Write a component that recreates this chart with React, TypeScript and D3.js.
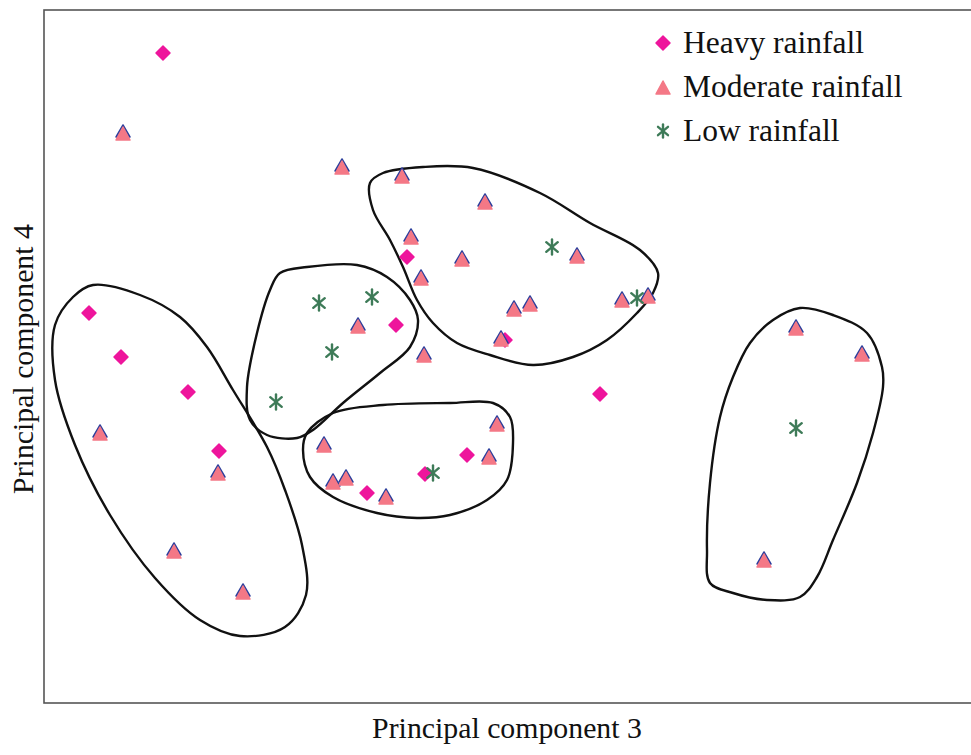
import React from "react";
import * as d3 from "d3";

// Principal component scores (PC3, PC4)
const heavy: [number, number][] = [
  [-3.37, 3.07], [-4.11, 0.47], [-3.79, 0.03], [-3.12, -0.32], [-2.81, -0.91],
  [-0.93, 1.03], [-1.04, 0.35], [1.0, -0.34], [-1.33, -1.33], [-0.33, -0.95],
  [-0.75, -1.14], [0.05, 0.2],
];
const moderate: [number, number][] = [
  [-3.77, 2.27], [-1.58, 1.93], [-0.98, 1.84], [-0.15, 1.58], [-0.89, 1.23],
  [-0.38, 1.01], [-0.79, 0.82], [0.77, 1.04], [0.14, 0.51], [0.3, 0.56],
  [0.01, 0.21], [1.22, 0.6], [1.48, 0.64], [-1.42, 0.34], [-0.76, 0.05],
  [-4.0, -0.73], [-2.82, -1.13], [-3.26, -1.91], [-2.57, -2.32], [-1.76, -0.85],
  [-1.67, -1.22], [-1.54, -1.18], [-1.14, -1.37], [-0.03, -0.64], [-0.11, -0.97],
  [2.96, 0.32], [3.62, 0.06], [2.64, -2.0],
];
const low: [number, number][] = [
  [0.52, 1.13], [1.37, 0.62], [-1.81, 0.57], [-1.28, 0.63], [-1.68, 0.08],
  [-2.24, -0.42], [-0.67, -1.13], [2.96, -0.68],
];

// Cluster outlines (closed curves) in the same units
const clusterA: [number, number][] = [
  [-4.27, 0.63], [-4.07, 0.75], [-3.6, 0.65], [-3.2, 0.43], [-2.93, 0.13], [-2.67, -0.3],
  [-2.33, -0.87], [-2.15, -1.3], [-1.98, -1.85], [-1.94, -2.35], [-2.15, -2.67], [-2.6, -2.76],
  [-3.0, -2.6], [-3.45, -2.18], [-3.9, -1.55], [-4.25, -0.85], [-4.45, -0.2], [-4.45, 0.35],
];
const clusterB: [number, number][] = [
  [-2.2, 0.87], [-1.93, 0.93], [-1.43, 0.95], [-1.13, 0.83], [-0.9, 0.6], [-0.82, 0.4],
  [-0.9, 0.13], [-1.2, -0.13], [-1.57, -0.43], [-1.87, -0.7], [-2.03, -0.78], [-2.33, -0.75],
  [-2.5, -0.6], [-2.53, -0.27], [-2.43, 0.27], [-2.3, 0.7],
];
const clusterC: [number, number][] = [
  [-1.93, -0.73], [-1.67, -0.53], [-1.17, -0.45], [-0.5, -0.43], [-0.07, -0.43], [0.1, -0.57],
  [0.13, -0.83], [0.07, -1.2], [-0.13, -1.4], [-0.5, -1.55], [-0.83, -1.58], [-1.23, -1.53],
  [-1.67, -1.37], [-1.9, -1.17], [-1.97, -0.9],
];
const clusterD: [number, number][] = [
  [-1.3, 1.77], [-1.17, 1.87], [-0.77, 1.93], [-0.27, 1.92], [0.4, 1.67], [0.9, 1.37],
  [1.4, 1.1], [1.58, 0.87], [1.53, 0.67], [1.37, 0.47], [1.07, 0.2], [0.73, 0.03],
  [0.33, -0.05], [-0.1, 0.05], [-0.43, 0.17], [-0.67, 0.37], [-0.83, 0.6], [-0.97, 0.93],
  [-1.1, 1.2], [-1.27, 1.5],
];
const clusterE: [number, number][] = [
  [3.0, 0.52], [3.33, 0.45], [3.67, 0.27], [3.82, -0.07], [3.83, -0.27], [3.73, -0.73],
  [3.57, -1.23], [3.33, -1.8], [3.17, -2.17], [3.0, -2.37], [2.67, -2.4], [2.33, -2.33],
  [2.1, -2.23], [2.07, -1.9], [2.1, -1.23], [2.2, -0.57], [2.33, -0.17], [2.5, 0.17],
  [2.73, 0.4],
];
const clusters = [clusterA, clusterB, clusterC, clusterD, clusterE];

const legendLabels = ["Heavy rainfall", "Moderate rainfall", "Low rainfall"];
const xLabel = "Principal component 3";
const yLabel = "Principal component 4";

const W = 971;
const H = 755;
const left = 44;
const right = 972;
const top = 10;
const bottom = 703;

const x = d3.scaleLinear().domain([-4.56, 4.72]).range([left, right]);
const y = d3.scaleLinear().domain([-3.43, 3.5]).range([bottom, top]);

const HEAVY = "#ee159c";
const PINK = "#f47886";
const BLUE = "#2c3f9c";
const GREEN = "#3e7b58";

const diamond = (cx: number, cy: number, r = 7) =>
  `M${cx},${cy - r}L${cx + r},${cy}L${cx},${cy + r}L${cx - r},${cy}Z`;
const tri = (cx: number, cy: number, w: number, h: number) =>
  `M${cx},${cy - h / 2}L${cx + w / 2},${cy + h / 2}L${cx - w / 2},${cy + h / 2}Z`;

function Diamond({ cx, cy }: { cx: number; cy: number }) {
  return <path d={diamond(cx, cy)} fill={HEAVY} stroke={HEAVY} strokeWidth={1.5} strokeLinejoin="round" />;
}
function Triangle({ cx, cy, outline = true }: { cx: number; cy: number; outline?: boolean }) {
  return (
    <g>
      {outline && <path d={tri(cx, cy - 2, 14, 12)} fill={BLUE} stroke={BLUE} strokeWidth={1.5} strokeLinejoin="round" />}
      <path d={tri(cx, cy + 0.5, 14, 13)} fill={PINK} stroke={PINK} strokeWidth={1.5} strokeLinejoin="round" />
    </g>
  );
}
function Star({ cx, cy, r = 7.5 }: { cx: number; cy: number; r?: number }) {
  const a = (Math.PI / 180) * 50;
  const dx = Math.sin(a) * r;
  const dy = Math.cos(a) * r;
  return (
    <g stroke={GREEN} strokeWidth={2.4} strokeLinecap="round">
      <line x1={cx} y1={cy - r} x2={cx} y2={cy + r} />
      <line x1={cx - dx} y1={cy - dy} x2={cx + dx} y2={cy + dy} />
      <line x1={cx + dx} y1={cy - dy} x2={cx - dx} y2={cy + dy} />
    </g>
  );
}

export default function App() {
  const line = d3
    .line<[number, number]>()
    .x((d) => x(d[0]))
    .y((d) => y(d[1]))
    .curve(d3.curveCatmullRomClosed.alpha(0.5));
  const font = "'Liberation Serif', 'Times New Roman', serif";
  const legendY = [43, 87, 131];
  return (
    <svg width={W} height={H} style={{ position: "absolute", left: 0, top: 0, background: "#fff" }}>
      <rect x={0} y={0} width={W} height={H} fill="#fff" />
      <rect x={left} y={top} width={right - left} height={bottom - top} fill="none" stroke="#555" strokeWidth={1.6} />
      {clusters.map((c, i) => (
        <path key={i} d={line(c) || ""} fill="none" stroke="#111" strokeWidth={2.4} />
      ))}
      {heavy.map((d, i) => (
        <Diamond key={"h" + i} cx={x(d[0])} cy={y(d[1])} />
      ))}
      {moderate.map((d, i) => (
        <Triangle key={"m" + i} cx={x(d[0])} cy={y(d[1])} />
      ))}
      {low.map((d, i) => (
        <Star key={"l" + i} cx={x(d[0])} cy={y(d[1])} />
      ))}
      <Diamond cx={663} cy={legendY[0]} />
      <Triangle cx={663} cy={legendY[1]} outline={false} />
      <Star cx={663} cy={legendY[2]} r={6.5} />
      {legendLabels.map((t, i) => (
        <text key={t} x={683} y={legendY[i] + 10} fontFamily={font} fontSize={31.5} fill="#111">
          {t}
        </text>
      ))}
      <text x={507} y={738} textAnchor="middle" fontFamily={font} fontSize={29.8} fill="#111">
        {xLabel}
      </text>
      <text
        transform={`translate(33, 359) rotate(-90)`}
        textAnchor="middle"
        fontFamily={font}
        fontSize={29.8}
        fill="#111"
      >
        {yLabel}
      </text>
    </svg>
  );
}
